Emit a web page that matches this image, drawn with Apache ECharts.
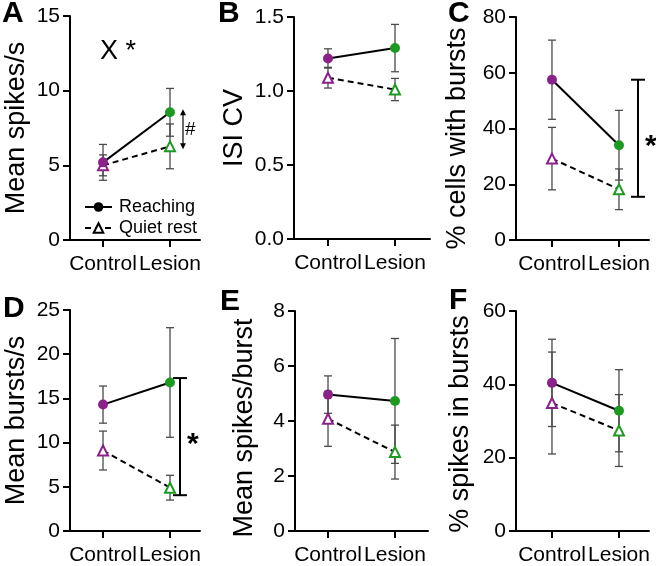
<!DOCTYPE html>
<html><head><meta charset="utf-8">
<script src="https://cdn.jsdelivr.net/npm/echarts@6/dist/echarts.min.js"></script>
<style>html,body{margin:0;padding:0;background:#fff}#c{width:656px;height:566px}</style>
</head><body><div id="c"></div><script>
// ---- data ----
const categories = ['Control', 'Lesion'];
const seriesNames = ['Reaching', 'Quiet rest'];

const reachA = [5.2, 8.55];   const reachAErr = [1.2, 1.6];
const quietA = [5.0, 6.27];   const quietAErr = [0.7, 1.5];

const reachB = [1.22, 1.29];  const reachBErr = [0.065, 0.16];
const quietB = [1.09, 1.01];  const quietBErr = [0.07, 0.075];

const reachC = [57.5, 34.0];  const reachCErr = [14.2, 12.5];
const quietC = [29.2, 18.2];  const quietCErr = [11.2, 7.3];

const reachD = [14.3, 16.8];  const reachDErr = [2.1, 6.2];
const quietD = [9.1, 4.9];    const quietDErr = [2.2, 1.4];

const reachE = [4.96, 4.73];  const reachEErr = [0.68, 2.27];
const quietE = [4.08, 2.87];  const quietEErr = [1.0, 0.98];

const reachF = [40.4, 32.8];  const reachFErr = [11.9, 11.2];
const quietF = [34.9, 27.4];  const quietFErr = [13.9, 9.8];

// y-axis ticks [min, max, interval]
const yTicksA = [0, 15, 5];
const yTicksB = [0, 1.5, 0.5];
const yTicksC = [0, 80, 20];
const yTicksD = [0, 25, 5];
const yTicksE = [0, 8, 2];
const yTicksF = [0, 60, 20];

// significance annotations: [category position, top value, bottom value]
const hashA = [2, 8.55, 6.27];
const starC = [2, 57.5, 15.5];
const starD = [2, 17.3, 4.05];

// ---- style / layout ----
const PURPLE = '#8B2289';
const GREEN = '#1E9A22';
const FONT = '"Liberation Sans", Arial, Helvetica, sans-serif';

const panels = [
  {letter:'A', title:'Mean spikes/s', r:reachA, re:reachAErr, q:quietA, qe:quietAErr, yt:yTicksA, dec:0,
   grid:{left:70, top:16, width:130, height:224}, xr:[0.507, 2.448], nameGap:40, pad:0, lx:2, ly:14},
  {letter:'B', title:'ISI CV', r:reachB, re:reachBErr, q:quietB, qe:quietBErr, yt:yTicksB, dec:1,
   grid:{left:294, top:17, width:136, height:222}, xr:[0.493, 2.522], nameGap:46, pad:0, lx:218, ly:14},
  {letter:'C', title:'% cells with bursts', r:reachC, re:reachCErr, q:quietC, qe:quietCErr, yt:yTicksC, dec:0,
   grid:{left:516, top:17, width:133, height:223}, xr:[0.463, 2.448], nameGap:45, pad:20, lx:448, ly:14},
  {letter:'D', title:'Mean bursts/s', r:reachD, re:reachDErr, q:quietD, qe:quietDErr, yt:yTicksD, dec:0,
   grid:{left:70, top:310, width:130, height:222}, xr:[0.507, 2.448], nameGap:40, pad:0, lx:3, ly:309},
  {letter:'E', title:'Mean spikes/burst', r:reachE, re:reachEErr, q:quietE, qe:quietEErr, yt:yTicksE, dec:0,
   grid:{left:295, top:311, width:133, height:221}, xr:[0.507, 2.493], nameGap:37, pad:14, lx:220, ly:302},
  {letter:'F', title:'% spikes in bursts', r:reachF, re:reachFErr, q:quietF, qe:quietFErr, yt:yTicksF, dec:0,
   grid:{left:516, top:311, width:133, height:221}, xr:[0.463, 2.448], nameGap:42, pad:6, lx:449, ly:301}
];

function ln(x1, y1, x2, y2, w, c) {
  return {type:'line', shape:{x1, y1, x2, y2}, style:{stroke:c, lineWidth:w}};
}
function errItem(params, api) {
  const x = api.value(0), y = api.value(1), e = api.value(2);
  const t = api.coord([x, y + e]), b = api.coord([x, y - e]);
  const h = 4, c = '#4a4a4a', w = 1.3;
  return {type:'group', children:[
    ln(t[0], t[1], b[0], b[1], w, c),
    ln(t[0]-h, t[1], t[0]+h, t[1], w, c),
    ln(b[0]-h, b[1], b[0]+h, b[1], w, c)
  ]};
}
function bracketItem(offset, label) {
  return function(params, api) {
    const x = api.value(0);
    const t = api.coord([x, api.value(1)]), b = api.coord([x, api.value(2)]);
    const px = t[0] + offset, h = 7;
    return {type:'group', children:[
      ln(px, t[1], px, b[1], 2, '#000'),
      ln(px-h, t[1], px+h, t[1], 2, '#000'),
      ln(px-h, b[1], px+h, b[1], 2, '#000'),
      {type:'text', style:{text:label, x:px+7, y:(t[1]+b[1])/2 + 8, font:'bold 30px ' + FONT, fill:'#000',
        textAlign:'left', textVerticalAlign:'middle'}}
    ]};
  };
}
function arrowItem(offset, label) {
  return function(params, api) {
    const x = api.value(0);
    const t = api.coord([x, api.value(1)]), b = api.coord([x, api.value(2)]);
    const px = t[0] + offset, y1 = t[1] - 3, y2 = b[1] + 3, hw = 3, hh = 6;
    return {type:'group', children:[
      ln(px, y1 + 2, px, y2 - 2, 1.2, '#000'),
      {type:'polygon', shape:{points:[[px, y1], [px-hw, y1+hh], [px+hw, y1+hh]]}, style:{fill:'#000'}},
      {type:'polygon', shape:{points:[[px, y2], [px-hw, y2-hh], [px+hw, y2-hh]]}, style:{fill:'#000'}},
      {type:'text', style:{text:label, x:px+2, y:(y1+y2)/2, font:'19px ' + FONT, fill:'#000',
        textAlign:'left', textVerticalAlign:'middle'}}
    ]};
  };
}

const grids = [], xAxes = [], yAxes = [], series = [], graphics = [];
panels.forEach((p, i) => {
  grids.push(Object.assign({containLabel:false}, p.grid));
  xAxes.push({
    type:'value', gridIndex:i, min:p.xr[0], max:p.xr[1],
    axisLine:{show:true, onZero:false, lineStyle:{color:'#000', width:2}},
    axisTick:{show:true, customValues:[1, 2], length:7, lineStyle:{color:'#000', width:2}},
    axisLabel:{show:true, customValues:[1, 2], formatter:v => categories[Math.round(v) - 1] || '',
      fontSize:21, color:'#000', fontFamily:FONT, margin:14},
    splitLine:{show:false}
  });
  yAxes.push({
    type:'value', gridIndex:i, min:p.yt[0], max:p.yt[1], interval:p.yt[2],
    name:p.title, nameLocation:'middle', nameGap:p.nameGap,
    nameTextStyle:{fontSize:27, color:'#000', fontFamily:FONT, padding:[0, p.pad, 0, 0]},
    axisLine:{show:true, lineStyle:{color:'#000', width:2}},
    axisTick:{show:true, length:7, lineStyle:{color:'#000', width:2}},
    axisLabel:{fontSize:21, color:'#000', fontFamily:FONT, margin:10,
      formatter:v => v.toFixed(p.dec)},
    splitLine:{show:false}
  });
  const cols = [PURPLE, GREEN];
  series.push({type:'custom', xAxisIndex:i, yAxisIndex:i, renderItem:errItem, z:1, silent:true,
    data:p.r.map((v, j) => [j + 1, v, p.re[j]])});
  series.push({type:'custom', xAxisIndex:i, yAxisIndex:i, renderItem:errItem, z:1, silent:true,
    data:p.q.map((v, j) => [j + 1, v, p.qe[j]])});
  series.push({type:'line', name:seriesNames[0], xAxisIndex:i, yAxisIndex:i, z:3,
    symbol:'circle', symbolSize:10, showAllSymbol:true,
    lineStyle:{color:'#000', width:2}, itemStyle:{color:'#000'},
    data:p.r.map((v, j) => ({value:[j + 1, v], itemStyle:{color:cols[j]}}))});
  series.push({type:'line', name:seriesNames[1], xAxisIndex:i, yAxisIndex:i, z:2,
    symbol:'triangle', symbolSize:10, showAllSymbol:true,
    lineStyle:{color:'#000', width:2, type:[6, 4]},
    itemStyle:{color:'#fff', borderColor:'#000', borderWidth:2},
    data:p.q.map((v, j) => ({value:[j + 1, v], itemStyle:{color:'#fff', borderColor:cols[j], borderWidth:2}}))});
  graphics.push({type:'text', left:p.lx, top:p.ly - 15,
    style:{text:p.letter, font:'bold 30px ' + FONT, fill:'#000'}});
});

series.push({type:'custom', xAxisIndex:0, yAxisIndex:0, renderItem:arrowItem(13, '#'), z:4, silent:true, data:[hashA]});
series.push({type:'custom', xAxisIndex:2, yAxisIndex:2, renderItem:bracketItem(19, '*'), z:4, silent:true, data:[starC]});
series.push({type:'custom', xAxisIndex:3, yAxisIndex:3, renderItem:bracketItem(10, '*'), z:4, silent:true, data:[starD]});

graphics.push({type:'text', left:100, top:38, style:{text:'X *', font:'27px ' + FONT, fill:'#000'}});

const chart = echarts.init(document.getElementById('c'), null, {renderer:'canvas'});
chart.setOption({
  animation:false,
  backgroundColor:'#fff',
  grid:grids, xAxis:xAxes, yAxis:yAxes, series:series,
  legend:{show:true, data:seriesNames, left:79, top:193, orient:'vertical', itemWidth:27, itemHeight:12, itemGap:3,
    selectedMode:false, textStyle:{fontSize:18, color:'#000', fontFamily:FONT, padding:[0, 0, 0, 2]}},
  graphic:graphics
});
</script></body></html>
